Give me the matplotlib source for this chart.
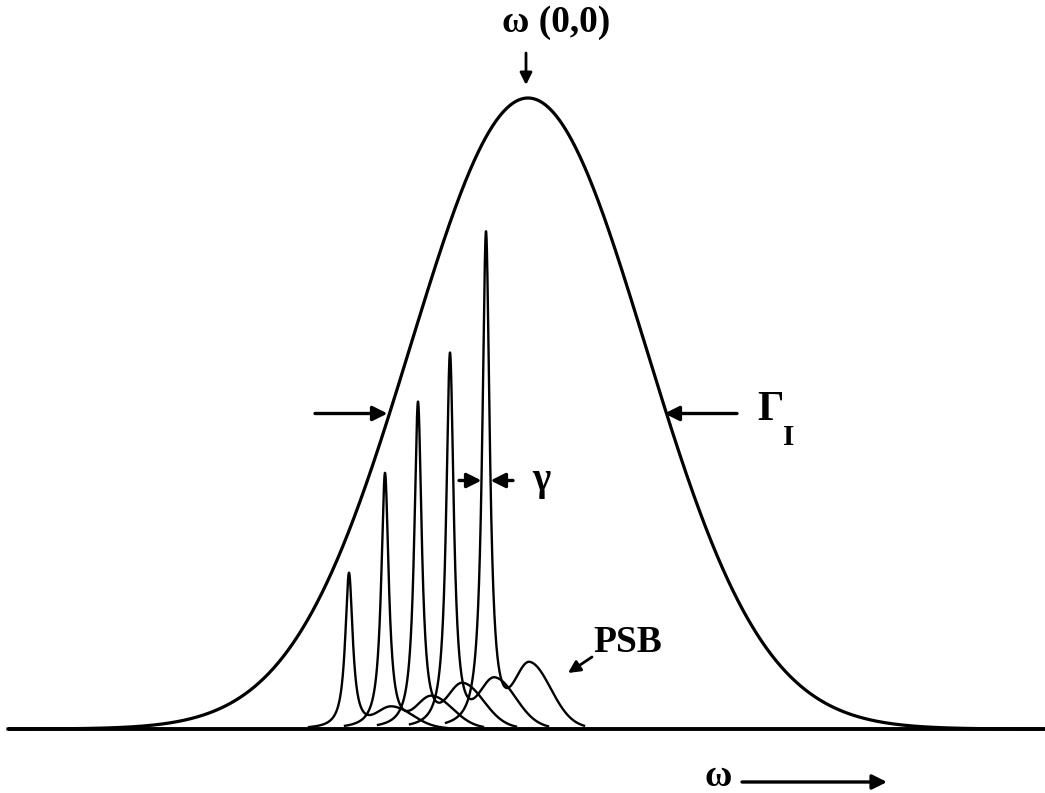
import numpy as np
import matplotlib.pyplot as plt

# Inhomogeneous band (Gaussian), arbitrary units
band_center = 528.0
band_height = 631.0
band_fwhm = 277.0

# Zero-phonon lines (Lorentzian) of individual sites
zpl_pos = [349, 385, 418, 450, 486]
zpl_height = [156, 256, 327, 376, 497]
zpl_hwhm = 4.5

# Phonon side bands belonging to each ZPL
psb_pos = [392, 432, 463, 495, 530]
psb_height = [21, 31, 43, 48, 62]

FONT = "Liberation Serif"

fig = plt.figure(figsize=(10.45, 7.93), dpi=100)
ax = fig.add_axes([0, 0, 1, 1])
ax.set_xlim(0, 1045)
ax.set_ylim(-64, 729)
ax.axis("off")

# baseline
ax.plot([8, 1045], [0, 0], color="black", lw=2.8, solid_capstyle="butt")

# broad inhomogeneous envelope
sigma = band_fwhm / (2 * np.sqrt(2 * np.log(2)))
w = np.linspace(8, 1040, 1500)
band = band_height * np.exp(-0.5 * ((w - band_center) / sigma) ** 2)
ax.plot(w, band, color="black", lw=2.3)

# single-site spectra: sharp ZPL plus asymmetric phonon side band
for x0, h, xp, hp in zip(zpl_pos, zpl_height, psb_pos, psb_height):
    x = np.linspace(x0 - 40, x0 + 98, 800)
    zpl = h / (1 + ((x - x0) / zpl_hwhm) ** 2)
    sig = np.where(x < xp, 15.0, 21.0)
    psb = hp * np.exp(-0.5 * ((x - xp) / sig) ** 2)
    ax.plot(x, zpl + psb, color="black", lw=1.7)

arrow = dict(arrowstyle="-|>", color="black", lw=2.4,
             mutation_scale=22, shrinkA=0, shrinkB=0)

# FWHM of the inhomogeneous band
half = band_height / 2
ax.annotate("", xy=(band_center - band_fwhm / 2 - 2, half),
            xytext=(315, half), arrowprops=arrow)
ax.annotate("", xy=(band_center + band_fwhm / 2 - 2, half),
            xytext=(737, half), arrowprops=arrow)
ax.text(757, 309, "Γ", fontsize=30, fontweight="bold", family=FONT,
        ha="left", va="baseline")
ax.text(783, 284, "I", fontsize=21, fontweight="bold", family=FONT,
        ha="left", va="baseline")

# homogeneous width of the strongest ZPL
zx, zh = zpl_pos[-1], zpl_height[-1]
ax.annotate("", xy=(zx - zpl_hwhm, zh / 2), xytext=(zx - 27, zh / 2),
            arrowprops=arrow)
ax.annotate("", xy=(zx + zpl_hwhm, zh / 2), xytext=(zx + 27, zh / 2),
            arrowprops=arrow)
ax.text(532, zh / 2, "γ", fontsize=28, fontweight="bold", family=FONT,
        ha="left", va="center")

# band centre
ax.annotate("", xy=(band_center - 2, band_height + 13),
            xytext=(band_center - 2, band_height + 45),
            arrowprops=dict(arrow, lw=2.0, mutation_scale=18))
ax.text(556, 707, "ω (0,0)", fontsize=27, fontweight="bold", family=FONT,
        ha="center", va="center")

# phonon side band label
ax.annotate("", xy=(568, 56), xytext=(592, 72),
            arrowprops=dict(arrow, lw=2.0, mutation_scale=18))
ax.text(593, 77, "PSB", fontsize=27, fontweight="bold", family=FONT,
        ha="left", va="baseline")

# frequency axis
ax.annotate("", xy=(887, -53), xytext=(742, -53), arrowprops=arrow)
ax.text(705, -47, "ω", fontsize=27, fontweight="bold", family=FONT,
        ha="left", va="center")

fig.savefig("out.png", dpi=100, facecolor="white")
